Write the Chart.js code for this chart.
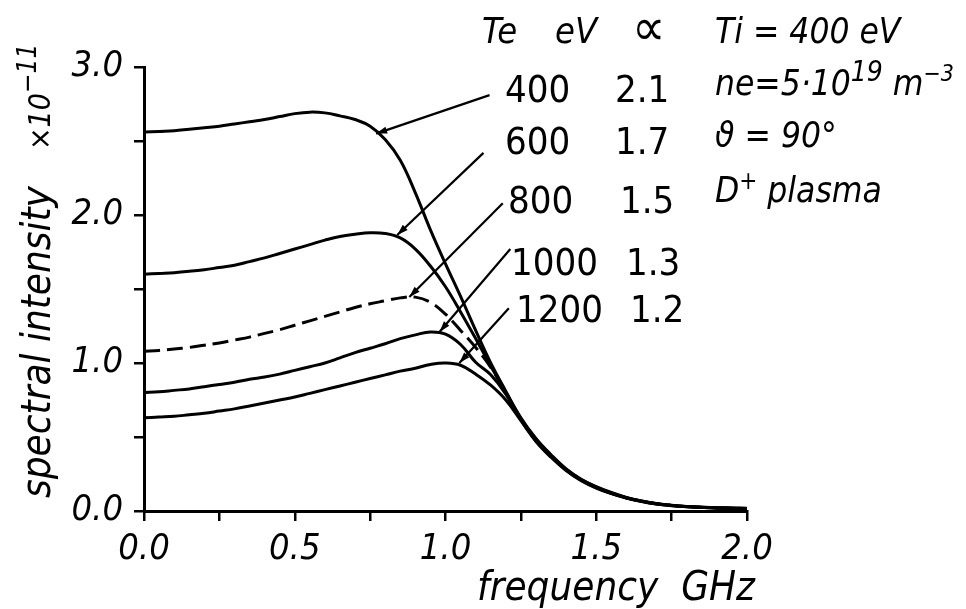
<!DOCTYPE html>
<html><head><meta charset="utf-8">
<script src="https://cdn.jsdelivr.net/npm/chart.js@4.4.1/dist/chart.umd.min.js"></script>
<style>html,body{margin:0;padding:0;background:#fff}#wrap{width:966px;height:609px;position:relative}</style>
</head><body><div id="wrap"><canvas id="c"></canvas></div>
<script>
// ---- data ----
const frequencyGHz = [0,0.05,0.1,0.15,0.2,0.25,0.3,0.35,0.4,0.45,0.5,0.55,0.6,0.65,0.7,0.75,0.8,0.85,0.9,0.95,1.0,1.05,1.1,1.15,1.2,1.25,1.3,1.35,1.4,1.45,1.5,1.55,1.6,1.65,1.7,1.75,1.8,1.85,1.9,1.95,2.0];
const te400  = [2.56,2.565,2.57,2.58,2.59,2.60,2.615,2.63,2.645,2.665,2.685,2.695,2.69,2.67,2.645,2.60,2.51,2.37,2.15,1.90,1.67,1.45,1.22,1.00,0.81,0.63,0.49,0.38,0.285,0.215,0.165,0.125,0.092,0.068,0.05,0.039,0.031,0.026,0.022,0.02,0.018];
const te600  = [1.60,1.605,1.61,1.62,1.63,1.645,1.66,1.685,1.71,1.74,1.77,1.80,1.83,1.855,1.87,1.88,1.875,1.845,1.77,1.655,1.515,1.345,1.165,0.98,0.80,0.625,0.485,0.375,0.282,0.212,0.162,0.122,0.09,0.067,0.049,0.038,0.03,0.025,0.021,0.019,0.017];
const te800  = [1.08,1.085,1.095,1.105,1.12,1.135,1.155,1.175,1.20,1.225,1.255,1.285,1.315,1.345,1.375,1.40,1.42,1.44,1.445,1.41,1.33,1.22,1.105,0.97,0.80,0.62,0.48,0.372,0.28,0.21,0.16,0.12,0.089,0.066,0.049,0.038,0.03,0.025,0.021,0.019,0.017];
const te1000 = [0.80,0.805,0.815,0.825,0.84,0.855,0.87,0.89,0.905,0.925,0.95,0.975,1.00,1.035,1.07,1.10,1.13,1.165,1.19,1.21,1.195,1.125,1.005,0.92,0.79,0.615,0.475,0.368,0.277,0.208,0.158,0.119,0.088,0.065,0.048,0.037,0.029,0.024,0.02,0.018,0.016];
const te1200 = [0.63,0.635,0.64,0.65,0.66,0.675,0.69,0.71,0.73,0.75,0.77,0.795,0.82,0.845,0.87,0.895,0.92,0.945,0.965,0.99,1.00,0.985,0.925,0.85,0.75,0.61,0.47,0.363,0.273,0.205,0.155,0.117,0.087,0.064,0.047,0.036,0.029,0.024,0.02,0.018,0.016];
const teLabels    = ['400','600','800','1000','1200'];
const alphaLabels = ['2.1','1.7','1.5','1.3','1.2'];
const xTickLabels = ['0.0','0.5','1.0','1.5','2.0'];
const yTickLabels = ['0.0','1.0','2.0','3.0'];
// leader anchor points (data units): label end -> curve
const leaderFromX = [1.146,1.126,1.19,1.215,1.21];
const leaderFromY = [2.81,2.42,2.08,1.77,1.37];
const leaderToX   = [0.77,0.84,0.88,0.98,1.046];
const leaderToY   = [2.55,1.865,1.446,1.21,1.0];

const FONT = "'DejaVu Sans Condensed', 'DejaVu Sans', sans-serif";
const series = [te400, te600, te800, te1000, te1200];

const datasets = series.map((s, i) => ({
  label: teLabels[i] + ' eV',
  data: frequencyGHz.map((f, k) => ({x: f, y: s[k]})),
  borderColor: '#000',
  borderWidth: 3,
  borderDash: i === 2 ? [16, 7] : [],
  pointRadius: 0,
  fill: false,
  tension: 0.4
}));

function runs(ctx, x, y, parts) {
  let cx = x;
  parts.forEach(p => {
    ctx.font = (p.italic === false ? '' : 'italic ') + p.size + 'px ' + FONT;
    ctx.fillText(p.t, cx, y - (p.dy || 0));
    cx += ctx.measureText(p.t).width + (p.gap || 0);
  });
}

const annot = {
  id: 'annot',
  afterDraw(chart) {
    const ctx = chart.ctx, xs = chart.scales.x, ys = chart.scales.y;
    ctx.save();
    ctx.fillStyle = '#000'; ctx.strokeStyle = '#000';
    ctx.textBaseline = 'alphabetic'; ctx.textAlign = 'left';
    // leaders with arrowheads
    ctx.lineWidth = 2.2;
    for (let i = 0; i < leaderFromX.length; i++) {
      const x1 = xs.getPixelForValue(leaderFromX[i]), y1 = ys.getPixelForValue(leaderFromY[i]);
      const x2 = xs.getPixelForValue(leaderToX[i]), y2 = ys.getPixelForValue(leaderToY[i]);
      ctx.beginPath(); ctx.moveTo(x1, y1); ctx.lineTo(x2, y2); ctx.stroke();
      const a = Math.atan2(y2 - y1, x2 - x1), L = 11, W = 3.5;
      const bx = x2 - Math.cos(a) * L, by = y2 - Math.sin(a) * L;
      ctx.beginPath();
      ctx.moveTo(x2, y2);
      ctx.lineTo(bx + Math.sin(a) * W, by - Math.cos(a) * W);
      ctx.lineTo(bx - Math.sin(a) * W, by + Math.cos(a) * W);
      ctx.closePath(); ctx.fill();
    }
    // table header
    runs(ctx, 482, 43, [{t: 'Te', size: 36}]);
    runs(ctx, 555, 43, [{t: 'eV', size: 36}]);
    runs(ctx, 632, 45, [{t: '∝', size: 52}]);
    const rowX = [505, 505, 508, 511, 516], rowY = [102, 154, 213, 275, 322], aX = [615, 615, 620, 626, 630];
    for (let i = 0; i < teLabels.length; i++) {
      runs(ctx, rowX[i], rowY[i], [{t: teLabels[i], size: 38, italic: false}]);
      runs(ctx, aX[i], rowY[i], [{t: alphaLabels[i], size: 38, italic: false}]);
    }
    // parameters
    runs(ctx, 715, 43, [{t: 'Ti = 400 eV', size: 35}]);
    runs(ctx, 715, 95, [{t: 'ne=5·10', size: 35}, {t: '19', size: 28, dy: 14}, {t: ' m', size: 35}, {t: '−3', size: 23, dy: 14}]);
    runs(ctx, 715, 147, [{t: 'ϑ = 90°', size: 35}]);
    runs(ctx, 715, 202, [{t: 'D', size: 35}, {t: '+', size: 24, dy: 13}, {t: ' plasma', size: 35}]);
    // x title
    runs(ctx, 477, 600, [{t: 'frequency  GHz', size: 40}]);
    // y title (rotated)
    ctx.translate(50, 498); ctx.rotate(-Math.PI / 2);
    runs(ctx, 0, 0, [{t: 'spectral intensity', size: 40}]);
    runs(ctx, 348, 0, [{t: '×10', size: 30}, {t: '−11', size: 26, dy: 14}]);
    ctx.restore();
  }
};

const tickLabel = (arr, step) => v => {
  const k = v / step;
  return Math.abs(k - Math.round(k)) < 1e-6 ? arr[Math.round(k)] : '';
};

new Chart(document.getElementById('c'), {
  type: 'line',
  data: { datasets },
  options: {
    responsive: true, maintainAspectRatio: false, animation: false,
    layout: { padding: { left: 0, right: 219, top: 67, bottom: 0 } },
    plugins: { legend: { display: false }, tooltip: { enabled: false } },
    scales: {
      x: {
        type: 'linear', min: 0, max: 2,
        afterFit: s => { s.height = 98; },
        border: { color: '#000', width: 3 },
        grid: { drawOnChartArea: false, drawTicks: true, tickLength: 10, color: '#000', lineWidth: 2.5 },
        ticks: { stepSize: 0.25, autoSkip: false, maxRotation: 0, color: '#000', padding: 7,
                 font: { family: FONT, size: 36, style: 'italic' }, callback: tickLabel(xTickLabels, 0.5) }
      },
      y: {
        min: 0, max: 3,
        afterFit: s => { s.width = 144; },
        border: { color: '#000', width: 3 },
        grid: { drawOnChartArea: false, drawTicks: true, tickLength: 10, color: '#000', lineWidth: 2.5 },
        ticks: { stepSize: 0.5, autoSkip: false, color: '#000', padding: 11,
                 font: { family: FONT, size: 36, style: 'italic' }, callback: tickLabel(yTickLabels, 1) }
      }
    }
  },
  plugins: [annot]
});
</script></body></html>
